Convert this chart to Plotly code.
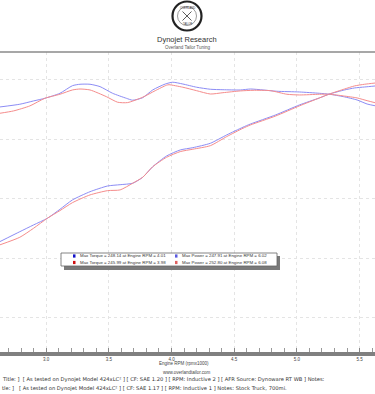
import plotly.graph_objects as go

# ---------------- data ----------------
rpm_tq_blue = [2.63, 2.79, 2.90, 2.99, 3.11, 3.21, 3.27, 3.35, 3.43, 3.53, 3.64, 3.69, 3.77, 3.85, 3.95,
               4.01, 4.09, 4.20, 4.31, 4.41, 4.55, 4.63, 4.73, 4.84, 5.02, 5.18, 5.26, 5.37, 5.48, 5.56, 5.63]
tq_blue = [227.3, 229.6, 232.4, 234.6, 238.8, 245.2, 246.4, 246.4, 244.4, 238.8, 234.6, 233.0, 235.1, 241.6, 246.6,
           248.1, 246.6, 243.9, 242.2, 241.8, 241.6, 242.4, 241.6, 240.5, 239.9, 238.8, 238.0, 236.0, 233.2, 229.8, 228.2]

rpm_tq_red = [2.63, 2.74, 2.87, 2.99, 3.11, 3.21, 3.27, 3.35, 3.48, 3.57, 3.65, 3.77, 3.87, 3.96, 3.98,
              4.09, 4.20, 4.31, 4.41, 4.55, 4.65, 4.79, 4.92, 5.02, 5.18, 5.26, 5.37, 5.48, 5.56, 5.63]
tq_red = [222.0, 224.0, 228.2, 234.6, 238.0, 241.6, 242.4, 241.6, 236.0, 231.3, 231.0, 235.5, 241.0, 245.6, 246.0,
          243.9, 241.0, 238.2, 239.3, 240.8, 241.3, 241.0, 238.0, 237.4, 238.0, 238.0, 236.6, 234.9, 232.6, 230.7]

rpm_hp = [2.63, 2.79, 2.90, 3.01, 3.11, 3.21, 3.35, 3.49, 3.59, 3.69, 3.77, 3.85, 3.96, 4.07, 4.17,
          4.31, 4.44, 4.57, 4.63, 4.83, 5.02, 5.18, 5.26, 5.38, 5.46, 5.54, 5.63]
hp_blue = [114.1, 122.5, 128.2, 133.8, 141.3, 149.2, 156.1, 160.9, 162.0, 163.2, 168.2, 177.1, 186.1, 191.2, 193.1,
           196.8, 203.8, 210.3, 213.0, 220.6, 229.0, 234.9, 238.2, 241.6, 243.3, 244.1, 245.0]
hp_red = [111.4, 117.8, 125.4, 133.8, 140.2, 146.9, 153.4, 157.0, 157.6, 163.2, 168.2, 177.1, 185.0, 189.8, 191.8,
          194.8, 202.4, 209.4, 212.2, 219.7, 228.2, 234.9, 238.2, 242.4, 245.0, 246.4, 247.5]

legend_labels = [
    "Max Torque = 248.14 at Engine RPM = 4.01",
    "Max Power = 247.91 at Engine RPM = 6.02",
    "Max Torque = 245.99 at Engine RPM = 3.98",
    "Max Power = 252.80 at Engine RPM = 6.08",
]
x_ticks = [3.0, 3.5, 4.0, 4.5, 5.0, 5.5]
x_tick_labels = ["3.0", "3.5", "4.0", "4.5", "5.0", "5.5"]
footer_lines = [
    "Title: ]&nbsp;&nbsp;[ As tested on Dynojet Model 424xLC\u00b2 ] [ CF: SAE 1.20 ] [ RPM: Inductive 2 ] [ AFR Source: Dynoware RT WB ] Notes:",
    "tle: ]&nbsp;&nbsp;&nbsp;[ As tested on Dynojet Model 424xLC\u00b2 ] [ CF: SAE 1.17 ] [ RPM: Inductive 1 ] Notes: Stock Truck, 700mi.",
]

# ---------------- layout helpers ----------------
W, H = 375, 394
TOP, BOT = 52, 352


def px(x):
    return x / W


def py(y):
    return (BOT - y) / (BOT - TOP)


BLUE = "rgb(140,140,245)"
RED = "rgb(245,140,140)"
FONT = "Liberation Sans, Arial, sans-serif"
FOOT_FONT = "DejaVu Sans, Verdana, sans-serif"
GRID = "#e4e4e4"

fig = go.Figure()
for xs, ys, c in [(rpm_tq_blue, tq_blue, BLUE), (rpm_tq_red, tq_red, RED),
                  (rpm_hp, hp_blue, BLUE), (rpm_hp, hp_red, RED)]:
    fig.add_trace(go.Scatter(x=xs, y=ys, mode="lines",
                             line=dict(color=c, width=1, shape="spline", smoothing=0.6),
                             hoverinfo="skip", showlegend=False))

shapes = []
# top border line
shapes.append(dict(type="line", xref="paper", yref="paper", x0=0, x1=1, y0=py(52), y1=py(52),
                   line=dict(color="#8a8a8a", width=1.5)))
# legend box shadow + box
shapes.append(dict(type="rect", xref="paper", yref="paper", x0=px(64), x1=px(280), y0=py(270), y1=py(256),
                   fillcolor="#7a7a7a", line=dict(width=0)))
shapes.append(dict(type="rect", xref="paper", yref="paper", x0=px(61), x1=px(277), y0=py(266), y1=py(253),
                   fillcolor="white", line=dict(color="#666", width=0.8)))
marker_cols = [(73, "#1010c8", 256), (175, "#5a5ae0", 256), (73, "#d01010", 262.5), (175, "#e06060", 262.5)]
for mx, mc, my in marker_cols:
    shapes.append(dict(type="rect", xref="paper", yref="paper", x0=px(mx), x1=px(mx + 2.5),
                       y0=py(my + 1.6), y1=py(my - 1.6), fillcolor=mc, line=dict(width=0)))
# logo
shapes.append(dict(type="circle", xref="paper", yref="paper", x0=px(172.5), x1=px(201.5), y0=py(30.5), y1=py(1.5),
                   line=dict(color="#222", width=2.2), fillcolor="white"))
shapes.append(dict(type="circle", xref="paper", yref="paper", x0=px(177.5), x1=px(196.5), y0=py(25.5), y1=py(6.5),
                   line=dict(color="#555", width=0.6)))
shapes.append(dict(type="line", xref="paper", yref="paper", x0=px(182.5), x1=px(191.5), y0=py(11.5), y1=py(20.5),
                   line=dict(color="#333", width=0.8)))
shapes.append(dict(type="line", xref="paper", yref="paper", x0=px(191.5), x1=px(182.5), y0=py(11.5), y1=py(20.5),
                   line=dict(color="#333", width=0.8)))

ann = []


def text(x, y, s, size, color="#333", anchor="center", family=FONT):
    ann.append(dict(xref="paper", yref="paper", x=px(x), y=py(y), text=s, showarrow=False,
                    xanchor=anchor, yanchor="middle", font=dict(size=size, color=color, family=family)))


text(187, 39.3, "Dynojet Research", 7.5, "#333")
text(187, 47.3, "Overland Tailor Tuning", 4.5, "#555")
text(187, 8.5, "OVERLAND", 2.8, "#333")
text(187, 24, "TAILOR", 2.6, "#333")
text(184, 363.3, "Engine RPM (rpmx1000)", 4.5, "#444")
text(187, 372.5, "www.overlandtailor.com", 4.5, "#444")
text(0, 379, footer_lines[0], 5.2, "#333", "left", FOOT_FONT)
text(0, 388, footer_lines[1], 5.2, "#333", "left", FOOT_FONT)
legend_pos = [(78, 256), (180, 256), (78, 262.5), (180, 262.5)]
for (lx, ly), lab in zip(legend_pos, legend_labels):
    text(lx, ly, lab, 4.4, "#333", "left")

fig.update_layout(
    width=W, height=H,
    margin=dict(l=0, r=0, t=TOP, b=H - BOT),
    paper_bgcolor="white", plot_bgcolor="white",
    shapes=shapes, annotations=ann,
    showlegend=False,
    xaxis=dict(range=[2.632, 5.623], tickvals=x_ticks, ticktext=x_tick_labels,
               showgrid=True, gridcolor=GRID, griddash="dot", gridwidth=1,
               showline=True, linecolor="#808080", linewidth=4,
               ticks="inside", ticklen=4, tickcolor="#888", tickwidth=1,
               minor=dict(dtick=0.1, tick0=0, ticks="inside", ticklen=4, tickcolor="#999", showgrid=False),
               tickfont=dict(size=4.5, color="#444", family=FONT), zeroline=False),
    yaxis=dict(range=[21.4, 273.5], dtick=50, tick0=0, showgrid=True, gridcolor=GRID,
               griddash="dot", gridwidth=1, showticklabels=False, zeroline=False, showline=False, ticks=""),
)

fig.write_html("out.html", config={"displayModeBar": False},
               post_script="document.body.style.margin='0';document.body.style.overflow='hidden';")
